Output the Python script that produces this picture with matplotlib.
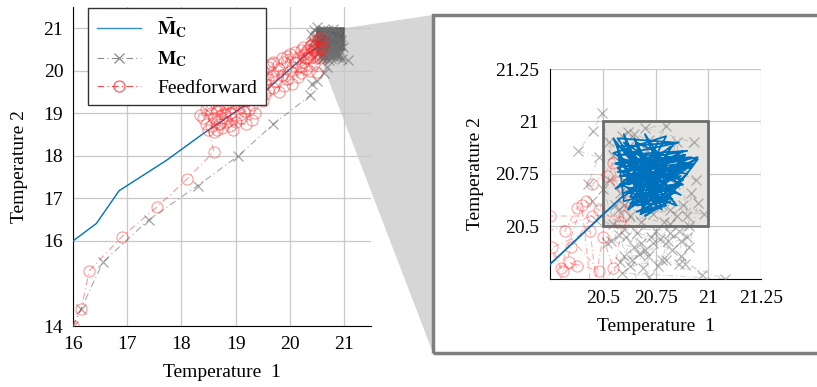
import matplotlib
matplotlib.use('Agg')
import matplotlib.pyplot as plt
from matplotlib.patches import Rectangle, Polygon

plt.rcParams['font.family'] = ['Liberation Serif', 'DejaVu Serif']
plt.rcParams['mathtext.fontset'] = 'stix'
plt.rcParams['font.size'] = 14

# M_bar_C trajectory (blue)
blue_x = [16.0, 16.43, 16.85, 16.96, 17.73, 18.0, 18.4, 19.5, 20.25, 20.59,
          20.9, 20.56, 20.88, 20.6, 20.85, 20.58, 20.93, 20.62, 20.8, 20.55,
          20.87, 20.6, 20.95, 20.64, 20.84, 20.57, 20.78, 20.6, 20.9, 20.68,
          20.75, 20.56, 20.88, 20.62, 20.83, 20.58, 20.8, 20.7, 20.86, 20.6,
          20.57, 20.86, 20.58, 20.9, 20.56, 20.92, 20.57, 20.88, 20.6, 20.87,
          20.62, 20.85, 20.64, 20.84, 20.66, 20.82, 20.68, 20.8, 20.55, 20.7,
          20.6, 20.75, 20.65, 20.8, 20.95, 20.62, 20.9, 20.58, 20.86, 20.6,
          20.83, 20.63, 20.81, 20.66, 20.78, 20.7, 20.74, 20.59, 20.89, 20.61,
          20.92, 20.66, 20.78, 20.57, 20.89, 20.7, 20.65, 20.85, 20.6, 20.82,
          20.72, 20.58, 20.88, 20.63, 20.76, 20.68, 20.84, 20.62, 20.9, 20.7]
blue_y = [16.0, 16.41, 17.18, 17.27, 17.9, 18.15, 18.52, 19.47, 20.32, 20.64,
          20.82, 20.8, 20.72, 20.9, 20.6, 20.7, 20.8, 20.58, 20.93, 20.85,
          20.65, 20.76, 20.83, 20.6, 20.9, 20.92, 20.62, 20.82, 20.75, 20.56,
          20.85, 20.68, 20.86, 20.66, 20.63, 20.88, 20.7, 20.94, 20.69, 20.62,
          20.88, 20.9, 20.84, 20.86, 20.8, 20.83, 20.76, 20.8, 20.72, 20.74,
          20.68, 20.7, 20.64, 20.66, 20.6, 20.62, 20.56, 20.6, 20.92, 20.58,
          20.94, 20.6, 20.92, 20.62, 20.82, 20.7, 20.78, 20.74, 20.77, 20.66,
          20.69, 20.61, 20.64, 20.57, 20.6, 20.55, 20.58, 20.8, 20.84, 20.77,
          20.78, 20.9, 20.58, 20.78, 20.84, 20.6, 20.85, 20.75, 20.7, 20.88,
          20.62, 20.82, 20.7, 20.64, 20.9, 20.7, 20.66, 20.86, 20.8, 20.75]

# M_C trajectory (gray)
gray_x = [16.0, 16.15, 16.55, 17.4, 18.3, 19.05, 19.7, 20.38, 20.41, 20.5,
          20.63, 20.69, 20.495, 20.456, 20.385, 20.48, 20.43, 20.5, 20.575, 20.54,
          20.646, 20.7, 20.716, 20.6, 20.63, 20.78, 20.82, 20.87, 20.87, 20.86,
          20.91, 20.95, 20.92, 20.89, 21.08, 20.59, 20.72, 20.65, 20.72, 20.76,
          20.59, 20.55, 20.53, 20.47, 20.55, 20.75, 20.82, 20.8, 20.97, 20.6,
          20.7, 20.8, 20.65, 20.75, 20.85, 20.9, 20.62, 20.68, 20.78, 20.88,
          20.58, 20.72, 20.84, 20.66, 20.93, 20.7, 20.8, 20.52, 20.61, 20.67,
          20.74, 20.83, 20.9, 20.58, 20.66, 20.77, 20.85, 20.69, 20.63, 20.79,
          20.88, 20.56, 20.74, 20.82, 20.62, 20.71, 20.94, 20.53, 20.68, 20.76,
          20.86, 20.6, 20.73, 20.81, 20.91, 20.64, 20.45, 20.57, 20.98, 20.7]
gray_y = [14.0, 14.4, 15.5, 16.5, 17.3, 18.0, 18.75, 19.42, 19.7, 19.77,
          19.94, 20.1, 21.04, 20.957, 20.86, 20.83, 20.7, 20.68, 20.46, 20.43,
          20.4, 20.39, 20.36, 20.36, 20.31, 20.34, 20.47, 20.43, 20.36, 20.32,
          20.4, 20.61, 20.66, 20.32, 20.25, 20.28, 20.26, 20.94, 20.91, 20.84,
          20.93, 20.84, 20.72, 20.53, 20.51, 20.48, 20.51, 20.34, 20.27, 20.6,
          20.7, 20.8, 20.75, 20.65, 20.9, 20.55, 20.88, 20.52, 20.6, 20.78,
          20.66, 20.8, 20.7, 20.62, 20.9, 20.97, 20.98, 20.42, 20.45, 20.37,
          20.42, 20.39, 20.45, 20.33, 20.47, 20.44, 20.55, 20.3, 20.55, 20.52,
          20.6, 20.6, 20.56, 20.58, 20.95, 20.86, 20.72, 20.9, 20.42, 20.31,
          20.48, 20.49, 20.45, 20.43, 20.5, 20.34, 20.62, 20.58, 20.56, 20.68]

# Feedforward trajectory (red)
red_x = [16.0, 16.15, 16.3, 16.9, 17.55, 18.1, 18.6, 18.5, 18.6, 18.45,
         18.7, 18.9, 18.55, 18.8, 19.0, 18.65, 18.95, 19.1, 18.75, 19.25,
         18.85, 19.3, 19.05, 18.4, 18.7, 19.2, 18.6, 18.9, 19.35, 18.35,
         18.5, 18.65, 18.8, 18.95, 19.15, 19.3, 18.55, 18.75, 19.0, 19.2,
         18.45, 18.85, 19.4, 19.2, 19.4, 19.3, 19.55, 19.5, 19.7, 19.6,
         19.8, 19.75, 19.9, 19.65, 19.85, 20.0, 20.05, 19.95, 20.15, 20.25,
         20.1, 20.3, 20.2, 20.35, 20.45, 19.45, 19.55, 19.3, 19.45, 19.6,
         19.7, 19.85, 19.9, 20.0, 20.1, 20.2, 20.3, 20.4, 20.45, 20.5,
         20.55, 20.35, 20.2, 20.05, 19.7, 19.6, 19.5, 19.35, 19.8, 19.95,
         20.15, 20.25, 20.6, 20.5, 20.44, 20.26, 20.31, 20.38, 20.34, 20.48,
         20.32, 20.38, 20.42, 20.48, 20.58, 20.62, 20.52, 20.57, 20.55, 20.45]
red_y = [14.0, 14.4, 15.3, 16.1, 16.8, 17.45, 18.1, 18.6, 18.9, 19.1,
         18.75, 19.0, 18.7, 18.95, 18.8, 19.05, 19.15, 18.9, 18.65, 19.1,
         18.8, 18.85, 19.2, 18.9, 19.2, 19.3, 18.55, 18.7, 19.0, 18.95,
         19.2, 18.6, 19.15, 18.6, 19.05, 19.2, 19.0, 18.9, 19.3, 18.75,
         18.75, 19.25, 19.35, 19.5, 19.6, 19.85, 19.7, 20.0, 19.9, 20.1,
         20.05, 19.75, 20.2, 20.15, 19.9, 20.4, 20.1, 19.8, 20.3, 20.2,
         20.45, 20.05, 19.95, 20.4, 20.55, 20.2, 19.45, 19.55, 19.8, 19.55,
         20.2, 20.3, 19.65, 20.0, 20.2, 20.5, 20.3, 20.6, 20.15, 20.45,
         20.3, 20.0, 20.1, 19.7, 19.6, 19.8, 19.3, 19.4, 19.5, 20.35,
         19.85, 20.55, 20.55, 19.97, 20.48, 20.4, 20.29, 20.31, 20.33, 20.29,
         20.48, 20.59, 20.62, 20.58, 20.52, 20.62, 20.74, 20.71, 20.8, 20.7]

x_ticks = [16, 17, 18, 19, 20, 21]
y_ticks = [14, 16, 17, 18, 19, 20, 21]
zoom_ticks = [20.5, 20.75, 21, 21.25]
zoom_labels = ['20.5', '20.75', '21', '21.25']

blue = '#0072BD'
gray = '#6e6e6e'
red = '#ff2020'
dashdot = (0, (6, 3, 1, 3))

fig = plt.figure(figsize=(8.17, 3.87), dpi=100)

ax = fig.add_axes([0.0894, 0.1576, 0.3647, 0.8243])
ax.set_facecolor('none')
axz = fig.add_axes([0.6732, 0.2791, 0.2583, 0.5426])

# main view
ax.plot(blue_x, blue_y, color=blue, lw=1.0, zorder=3,
        label=r'$\bar{\mathbf{M}}_{\mathbf{C}}$')
ax.add_patch(Rectangle((20.5, 20.5), 0.5, 0.5, fc='#4d4d4d', ec='#555555',
                       lw=1.2, alpha=0.85, zorder=3.5))
ax.plot(gray_x, gray_y, color=gray, lw=0.8, ls=dashdot, alpha=0.6,
        marker='x', ms=7, mew=0.9, zorder=4, label=r'$\mathbf{M}_{\mathbf{C}}$')
ax.plot(red_x, red_y, color=red, lw=0.8, ls=dashdot, alpha=0.45,
        marker='o', ms=8, mfc='none', mew=0.8, zorder=5, label='Feedforward')

ax.set_xlim(16, 21.5)
ax.set_ylim(14, 21.5)
ax.set_xticks(x_ticks)
ax.set_yticks(y_ticks)
ax.grid(True, color='#c8c8c8', lw=0.9)
ax.set_axisbelow(True)
ax.spines[['top', 'right']].set_visible(False)
ax.tick_params(length=0, pad=7)
ax.set_xlabel('Temperature  1', labelpad=8)
ax.set_ylabel('Temperature 2', labelpad=11)

leg = ax.legend(loc='upper left', bbox_to_anchor=(0.05, 0.997), borderaxespad=0,
                fancybox=False, framealpha=1, edgecolor='#333333',
                handlelength=2.3, labelspacing=0.5, borderpad=0.45)
leg.get_frame().set_linewidth(1.0)
for lh in leg.get_lines():
    lh.set_alpha(0.8)

# zoomed view
axz.plot(gray_x, gray_y, color=gray, lw=0.7, ls=dashdot, alpha=0.3, zorder=3)
axz.plot(gray_x, gray_y, color=gray, ls='none', alpha=0.5,
         marker='x', ms=7, mew=0.9, zorder=3)
axz.plot(red_x, red_y, color=red, lw=0.7, ls=dashdot, alpha=0.4,
         marker='o', ms=8, mfc='none', mew=0.8, zorder=4)
axz.plot(blue_x, blue_y, color=blue, lw=1.3, zorder=5)
axz.add_patch(Rectangle((20.5, 20.5), 0.5, 0.5, fc='#e6e4e1', ec='#6b6b6b',
                        lw=2.0, zorder=2))
axz.set_xlim(20.25, 21.25)
axz.set_ylim(20.25, 21.25)
axz.set_xticks(zoom_ticks)
axz.set_xticklabels(zoom_labels)
axz.set_yticks(zoom_ticks)
axz.set_yticklabels(zoom_labels)
axz.grid(True, color='#c8c8c8', lw=0.9)
axz.set_axisbelow(True)
axz.spines[['top', 'right']].set_visible(False)
axz.tick_params(length=0, pad=8)
axz.set_xlabel('Temperature  1', labelpad=8)
axz.set_ylabel('Temperature 2', labelpad=8)

# connector and frame
inv = fig.transFigure.inverted()
p_tr = inv.transform(ax.transData.transform((21, 21)))
p_bl = inv.transform(ax.transData.transform((20.5, 20.5)))
fx = 433 / 817
ft = 1 - 15 / 387
fb = 1 - 353 / 387
fig.patches.append(Polygon([p_tr, (fx, ft), (fx, fb), p_bl], closed=True,
                           transform=fig.transFigure, fc='#d6d6d6', ec='none',
                           zorder=-2))
fig.patches.append(Rectangle((fx, fb), 1.05 - fx, ft - fb, transform=fig.transFigure,
                             fc='none', ec='#7f7f7f', lw=2.5, zorder=1))

fig.savefig('out.png', dpi=100)
